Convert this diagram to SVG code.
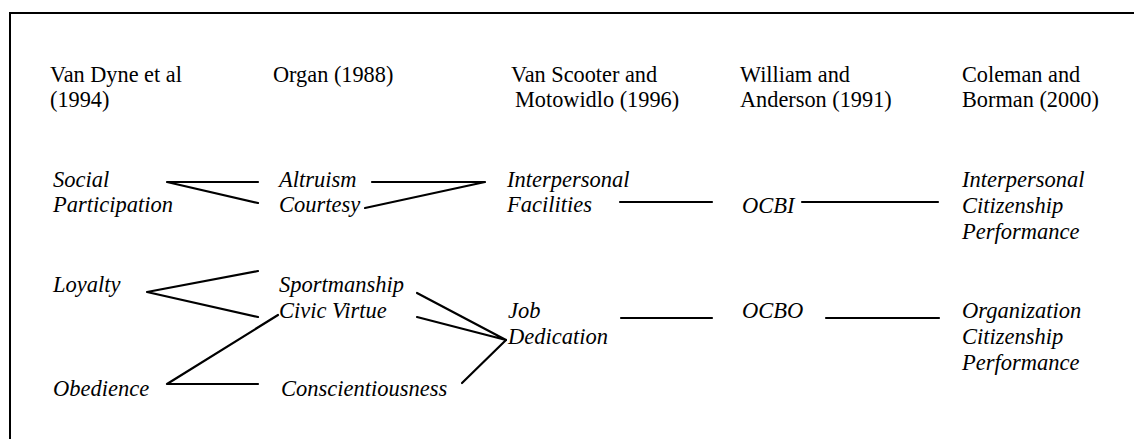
<svg xmlns="http://www.w3.org/2000/svg" width="1134" height="439" viewBox="0 0 1134 439">
  <style>
    .frame { fill: none; stroke: #000; stroke-width: 2; }
    .head { font-family: "Liberation Serif", "Times New Roman", serif; font-size: 22.3px; fill: #000; }
    .item { font-family: "Liberation Serif", "Times New Roman", serif; font-size: 22.5px; font-style: italic; fill: #000; }
    .link { fill: none; stroke: #000; stroke-width: 2.2; stroke-linecap: round; stroke-linejoin: round; }
  </style>
  <rect width="1134" height="439" fill="#fff"/>

  <!-- open frame: top and left edges only -->
  <path class="frame" d="M10,439 V13 H1134"/>

  <!-- column headings -->
  <g id="head-vandyne"><text class="head" x="50" y="82">Van Dyne et al</text><text class="head" x="50" y="107">(1994)</text></g>
  <g id="head-organ"><text class="head" x="273" y="82">Organ (1988)</text></g>
  <g id="head-vanscooter"><text class="head" x="511" y="82">Van Scooter and</text><text class="head" x="515" y="107">Motowidlo (1996)</text></g>
  <g id="head-william"><text class="head" x="740" y="82">William and</text><text class="head" x="740" y="107">Anderson (1991)</text></g>
  <g id="head-coleman"><text class="head" x="962" y="82">Coleman and</text><text class="head" x="962" y="107">Borman (2000)</text></g>

  <!-- Van Dyne et al dimensions -->
  <g id="social-participation"><text class="item" x="53" y="187">Social</text><text class="item" x="53" y="212">Participation</text></g>
  <g id="loyalty"><text class="item" x="53" y="292">Loyalty</text></g>
  <g id="obedience"><text class="item" x="53" y="396">Obedience</text></g>

  <!-- Organ dimensions -->
  <g id="altruism"><text class="item" x="279" y="187">Altruism</text></g>
  <g id="courtesy"><text class="item" x="279" y="212">Courtesy</text></g>
  <g id="sportmanship"><text class="item" x="279" y="292">Sportmanship</text></g>
  <g id="civic-virtue"><text class="item" x="279" y="318">Civic Virtue</text></g>
  <g id="conscientiousness"><text class="item" x="281" y="396">Conscientiousness</text></g>

  <!-- Van Scooter and Motowidlo dimensions -->
  <g id="interpersonal-facilities"><text class="item" x="507" y="187">Interpersonal</text><text class="item" x="507" y="212">Facilities</text></g>
  <g id="job-dedication"><text class="item" x="508" y="318">Job</text><text class="item" x="508" y="344">Dedication</text></g>

  <!-- William and Anderson dimensions -->
  <g id="ocbi"><text class="item" x="742" y="213">OCBI</text></g>
  <g id="ocbo"><text class="item" x="742" y="318">OCBO</text></g>

  <!-- Coleman and Borman dimensions -->
  <g id="interpersonal-citizenship"><text class="item" x="962" y="187">Interpersonal</text><text class="item" x="962" y="213">Citizenship</text><text class="item" x="962" y="239">Performance</text></g>
  <g id="organization-citizenship"><text class="item" x="962" y="318">Organization</text><text class="item" x="962" y="344">Citizenship</text><text class="item" x="962" y="370">Performance</text></g>

  <g id="connectors">
    <path class="link" d="M258,182 H167 L258,203"/>
    <path class="link" d="M372,182 H485 L365,208"/>
    <path class="link" d="M620,202 H712"/>
    <path class="link" d="M802,202 H938"/>
    <path class="link" d="M258,271 L147,292 L258,317"/>
    <path class="link" d="M278,315 L167,384 H258"/>
    <path class="link" d="M417,293 L506,340 L417,317"/>
    <path class="link" d="M462,383 L506,340"/>
    <path class="link" d="M621,318 H712"/>
    <path class="link" d="M826,318 H939"/>
  </g>
</svg>
